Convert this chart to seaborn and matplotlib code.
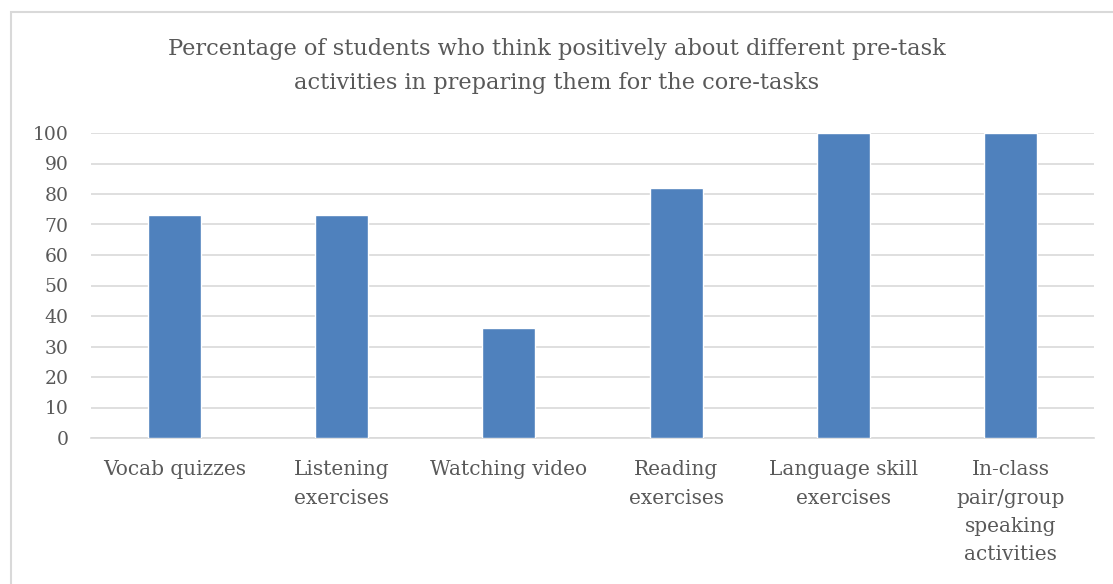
import matplotlib
matplotlib.use("Agg")
import matplotlib.pyplot as plt
import seaborn as sns
import pandas as pd
from matplotlib.patches import Rectangle

categories = ["Vocab quizzes", "Listening\nexercises", "Watching video",
              "Reading\nexercises", "Language skill\nexercises",
              "In-class\npair/group\nspeaking\nactivities"]
values = [73, 73, 36, 82, 100, 100]
yticks = [0, 10, 20, 30, 40, 50, 60, 70, 80, 90, 100]
title = ("Percentage of students who think positively about different pre-task\n"
         "activities in preparing them for the core-tasks")

sns.set_theme(style="white")
plt.rcParams['font.family'] = ['DejaVu Serif', 'Liberation Serif']
txt = "#595959"

df = pd.DataFrame({"cat": categories, "val": values})
fig = plt.figure(figsize=(11.13, 5.84), dpi=100)
ax = fig.add_axes([91/1113, 1-438/584, (1094-91)/1113, (438-133)/584])
sns.barplot(data=df, x="cat", y="val", color="#4F81BD", width=0.317,
            saturation=1, ax=ax, zorder=3)
ax.set_ylim(0, 100)
ax.set_xlim(-0.5, len(categories)-0.5)
ax.set_yticks(yticks)
ax.yaxis.grid(True, color="#d9d9d9", linewidth=1.2, zorder=0)
ax.set_axisbelow(True)
for s in ["top", "right", "left"]:
    ax.spines[s].set_visible(False)
ax.spines["bottom"].set_color("#d9d9d9")
ax.spines["bottom"].set_linewidth(1.2)
ax.set_xlabel("")
ax.set_ylabel("")
ax.tick_params(axis="both", length=0, colors=txt)
ax.tick_params(axis="y", pad=16, labelsize=13.5)
ax.tick_params(axis="x", pad=16, labelsize=14.5)
for lab in ax.get_xticklabels():
    lab.set_linespacing(1.62)
fig.text(0.5, 1-66/584, title, ha="center", va="center", fontsize=16.2,
         color=txt, linespacing=1.7)
fig.patches.append(Rectangle((11/1113, -0.1), 1.2, 1-12/584+0.1,
                             transform=fig.transFigure, fill=False,
                             edgecolor="#d9d9d9", linewidth=1.5))
fig.savefig("out.png", dpi=100)
